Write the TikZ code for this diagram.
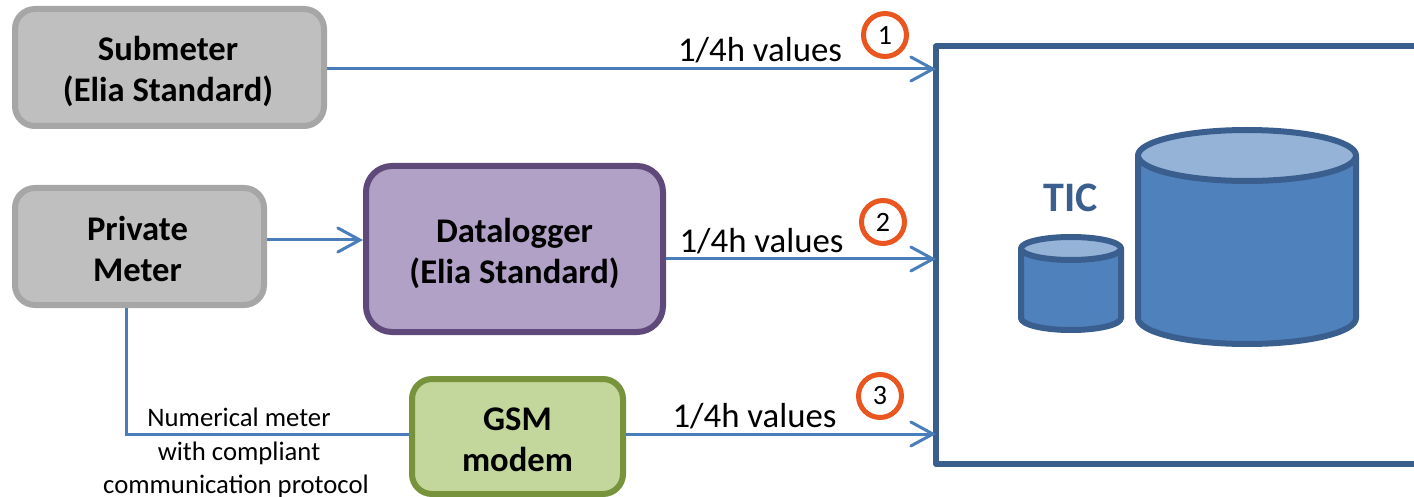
\documentclass[tikz,border=0pt]{standalone}
\usepackage{fontspec}
\setmainfont{Carlito}
\usetikzlibrary{arrows.meta,calc}
\definecolor{linkblue}{HTML}{4A7EBB}
\definecolor{ticblue}{HTML}{3A5F8F}
\definecolor{cylfill}{HTML}{4F81BD}
\definecolor{cyltop}{HTML}{95B3D7}
\definecolor{grayfill}{HTML}{BFBFBF}
\definecolor{graydraw}{HTML}{A6A6A6}
\definecolor{purplefill}{HTML}{B2A1C7}
\definecolor{purpledraw}{HTML}{5F497A}
\definecolor{greenfill}{HTML}{C3D69B}
\definecolor{greendraw}{HTML}{77933C}
\definecolor{markorange}{HTML}{EA561F}
\newcommand\dropline[1]{\rule{0pt}{#1}}
\tikzset{
  box/.style={rectangle,rounded corners=20pt,line width=6pt,align=center,inner sep=0pt,
    font=\fontsize{34.6}{41}\selectfont\bfseries},
  graybox/.style={box,draw=graydraw,fill=grayfill},
  purplebox/.style={box,draw=purpledraw,fill=purplefill,rounded corners=26pt},
  greenbox/.style={box,draw=greendraw,fill=greenfill},
  conn/.style={draw=linkblue,line width=3pt},
  arr/.style={conn,-{Straight Barb[length=22pt,width=24pt,line cap=round]}},
  vals/.style={inner sep=0pt,font=\fontsize{34.8}{40}\selectfont},
  badge/.style={circle,draw=markorange,line width=5pt,fill=white,minimum size=43pt,inner sep=0pt,
    font=\fontsize{28}{32}\selectfont},
  small/.style={inner sep=0pt,font=\fontsize{26.7}{30}\selectfont},
  cyl/.style={draw=ticblue,line width=6pt,line join=round},
}
\begin{document}
\begin{tikzpicture}[x=1pt,y=-1pt]
\useasboundingbox (0,0) rectangle (1414,497);
% nodes
\node[graybox,minimum width=309pt,minimum height=117pt] (sub) at (169.5,67.5) {\dropline{33pt}Submeter\kern3pt\\(Elia Standard)\kern3pt};
\node[graybox,minimum width=249pt,minimum height=117pt] (priv) at (139.5,246.5) {\dropline{30pt}Private\kern4pt\\Meter\kern4pt};
\node[purplebox,minimum width=297pt,minimum height=166pt] (dlog) at (514.5,249) {\dropline{33pt}Datalogger\\(Elia Standard)};
\node[greenbox,minimum width=211pt,minimum height=115pt] (gsm) at (517.5,436.5) {\dropline{29pt}GSM\\modem};
% TIC frame
\node[minimum width=478pt,minimum height=417.5pt,inner sep=0pt,outer sep=0pt] (frame) at (1175,255.25) {};
\draw[draw=ticblue,line width=6pt,line join=round] (frame.north east) -- (frame.north west) -- (frame.south west) -- (frame.south east);
% cylinders
\draw[cyl,fill=cylfill] (1021,248.5) -- (1021,318) arc[start angle=180,end angle=360,x radius=50,y radius=-12] -- (1121,248.5) -- cycle;
\draw[cyl,fill=cyltop] (1071,248.5) ellipse[x radius=50,y radius=11.5];
\draw[cyl,fill=cylfill] (1138,155.5) -- (1138,318) arc[start angle=180,end angle=360,x radius=109,y radius=-26] -- (1356,155.5) -- cycle;
\draw[cyl,fill=cyltop] (1247,155.5) ellipse[x radius=109,y radius=25.5];
\node[inner sep=0pt,text=ticblue,font=\fontsize{42}{48}\selectfont\bfseries] (tic) at (1071,198) {TIC};
% connectors
\draw[arr] (sub.east |- 0,69) -- (frame.west |- 0,69);
\draw[arr] (priv.east |- 0,240) -- (dlog.west |- 0,240);
\draw[arr] (dlog.east |- 0,259) -- (frame.west |- 0,259);
\draw[arr] (gsm.east |- 0,434) -- (frame.west |- 0,434);
\draw[conn] (priv.south -| 126,0) |- (gsm.west |- 0,434);
% labels
\node[vals] (v1) at (760,50) {1/4h values};
\node[vals] (v2) at (761.5,241) {1/4h values};
\node[vals] (v3) at (754.5,416) {1/4h values};
\node[badge] (b1) at (885,35) {1};
\node[badge] (b2) at (883,222) {2};
\node[badge] (b3) at (880,396) {3};
\node[small] (t1) at (239,417) {Numerical meter};
\node[small] (t2) at (239,453) {with compliant};
\node[small] (t3) at (236,486) {communication protocol};
\end{tikzpicture}
\end{document}
